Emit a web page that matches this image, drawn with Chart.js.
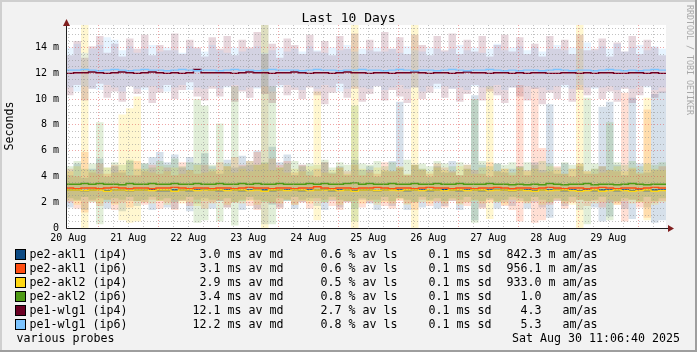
<!DOCTYPE html>
<html>
<head>
<meta charset="utf-8">
<title>Last 10 Days</title>
<script src="https://cdn.jsdelivr.net/npm/chart.js"></script>
<style>
    html, body { margin: 0; padding: 0; background: #f2f2f2; }
    canvas { display: block; }
</style>
</head>
<body>
<canvas id="chart" width="697" height="352"></canvas>
<script>
// x is hours since the graph start (20 Aug 11:06:40), every value covers one 3 h step
const stepHours = 3
const spanHours = 240
const firstNoon = 0.889 // 20 Aug 12:00
const dayLabels = ["20 Aug", "21 Aug", "22 Aug", "23 Aug", "24 Aug", "25 Aug", "26 Aug", "27 Aug", "28 Aug", "29 Aug"]
const yTickLabels = ["0", "2 m", "4 m", "6 m", "8 m", "10 m", "12 m", "14 m"]
const yMax = 15.75

const hostNames = ["pe2-akl1 (ip4)", "pe2-akl1 (ip6)", "pe2-akl2 (ip4)", "pe2-akl2 (ip6)", "pe1-wlg1 (ip4)", "pe1-wlg1 (ip6)"]
const avgMedian = [3.0, 3.1, 2.9, 3.4, 12.1, 12.2]
const avgLoss = [0.6, 0.6, 0.5, 0.8, 2.7, 0.8]
const avgSd = [0.1, 0.1, 0.1, 0.1, 0.1, 0.1]
const amAs = [842.3, 956.1, 933.0, 1.0, 4.3, 5.3]
const amAsPrefix = ["m", "m", "m", " ", " ", " "]

// medians (ms)
const akl1v4Med = [2.95,2.95,2.9,2.95,3.0,2.9,2.95,2.95,2.9,2.95, 2.95,3.0,2.9,2.9,2.95,2.95,2.9,2.95,3.0,2.95, 2.9,2.95,2.95,2.9,2.95,3.0,2.95,2.9,2.95,2.95, 2.95,2.9,2.95,2.95,3.0,2.9,2.95,2.95,2.9,2.95, 2.95,2.9,2.95,3.0,2.95,2.9,2.95,2.95,2.9,2.95, 3.0,2.95,2.9,2.95,2.95,2.9,2.95,3.0,2.95,2.9, 2.95,2.95,2.9,2.95,2.95,3.0,2.9,2.95,2.9,2.95, 2.9,2.95,2.95,2.9,2.95,2.9,2.95,2.9,2.95,2.95]
const akl1v6Med = [3.1,3.05,3.1,3.1,3.05,3.1,3.15,3.1,3.05,3.1, 3.1,3.05,3.1,3.1,3.15,3.1,3.05,3.1,3.1,3.05, 3.1,3.1,3.05,3.1,3.15,3.1,3.1,3.05,3.1,3.1, 3.05,3.1,3.1,3.2,3.1,3.05,3.1,3.1,3.05,3.1, 3.1,3.15,3.1,3.05,3.1,3.1,3.05,3.1,3.15,3.1, 3.1,3.05,3.1,3.1,3.05,3.1,3.1,3.15,3.1,3.05, 3.1,3.1,3.05,3.1,3.15,3.1,3.05,3.1,3.1,3.05, 3.1,3.15,3.1,3.05,3.1,3.1,3.05,3.1,3.15,3.1]
const akl2v4Med = [2.95,2.95,2.9,2.95,2.95,2.85,2.95,2.95,2.9,2.95, 2.95,2.9,2.95,2.95,2.85,2.95,2.95,2.9,2.95,2.95, 2.95,2.9,2.95,2.95,2.9,2.95,2.85,2.95,2.95,2.9, 2.95,2.95,2.9,2.95,2.95,2.95,2.9,2.95,2.85,2.95, 2.95,2.9,2.95,2.95,2.9,2.95,2.95,2.9,2.95,2.95, 2.9,2.95,2.95,2.9,2.95,2.95,2.9,2.95,2.95,2.9, 2.95,2.9,2.85,2.95,2.9,2.95,2.95,2.9,2.85,2.9, 2.95,2.85,2.9,2.95,2.9,2.85,2.9,2.95,2.85,2.9]
const akl2v6Med = [3.4,3.4,3.45,3.4,3.45,3.4,3.4,3.35,3.45,3.4, 3.4,3.45,3.4,3.4,3.45,3.4,3.4,3.45,3.4,3.4, 3.45,3.4,3.4,3.45,3.4,3.45,3.4,3.4,3.45,3.4, 3.4,3.4,3.45,3.4,3.45,3.4,3.4,3.45,3.5,3.4, 3.45,3.4,3.4,3.45,3.4,3.4,3.45,3.4,3.4,3.45, 3.4,3.4,3.45,3.4,3.4,3.4,3.45,3.4,3.4,3.35, 3.4,3.35,3.4,3.35,3.45,3.4,3.35,3.4,3.4,3.45, 3.35,3.4,3.4,3.35,3.4,3.45,3.4,3.35,3.4,3.4]
const wlg1v4Med = [12.0,12.05,12.05,12.1,12.05,12.0,12.05,12.1,12.05,12.0, 12.05,12.1,12.05,12.0,12.05,12.0,12.05,12.3,12.05,12.05, 12.05,12.05,12.0,12.05,12.1,12.05,12.05,12.0,12.05,12.05, 12.1,12.05,12.0,12.05,12.05,12.0,12.05,12.1,12.05,12.05, 12.0,12.05,12.05,12.0,12.05,12.05,12.1,12.05,12.0,12.05, 12.05,12.0,12.05,12.1,12.05,12.05,12.0,12.05,12.05,12.0, 12.05,12.0,12.05,12.05,12.0,12.0,12.05,12.05,12.0,12.05, 12.0,12.05,12.05,12.0,12.0,12.05,12.05,12.0,12.05,12.0]
const wlg1v6Med = [12.25,12.25,12.3,12.25,12.2,12.25,12.3,12.25,12.2,12.25, 12.3,12.25,12.25,12.2,12.25,12.3,12.25,12.2,12.25,12.25, 12.2,12.25,12.3,12.25,12.25,12.2,12.25,12.3,12.25,12.25, 12.25,12.2,12.25,12.3,12.25,12.25,12.2,12.25,12.25,12.3, 12.25,12.25,12.2,12.25,12.3,12.25,12.2,12.25,12.25,12.2, 12.25,12.3,12.25,12.2,12.25,12.25,12.3,12.25,12.2,12.25, 12.2,12.25,12.25,12.2,12.25,12.3,12.25,12.2,12.25,12.25, 12.2,12.25,12.3,12.25,12.2,12.25,12.2,12.25,12.3,12.25]

// smoke: lowest and highest ping per step (ms)
const akl1v4Min = [1.6,2.2,1.4,2.0,2.3,1.5,1.9,1.3,2.1,1.7, 2.0,1.4,2.2,1.6,1.5,2.1,1.3,1.9,2.3,1.5, 2.1,1.6,2.0,1.4,2.2,1.5,0.3,1.8,1.6,2.1, 1.5,2.0,2.3,1.7,1.4,2.1,1.6,2.0,1.5,2.2, 1.9,1.4,2.1,1.7,2.3,1.4,2.0,1.6,2.2,1.5, 1.7,2.1,1.4,2.0,0.6,1.6,2.2,1.5,2.0,1.7, 2.1,1.5,2.0,1.6,0.8,2.1,1.7,2.0,1.4,2.1, 1.6,0.5,0.9,2.0,1.5,0.7,2.1,1.6,0.4,0.6]
const akl1v4Max = [4.1,5.0,3.9,4.6,5.4,4.0,4.8,4.3,5.2,4.1, 5.0,5.5,5.9,5.1,5.7,4.7,5.5,5.0,5.8,4.8, 4.2,5.3,4.7,5.6,4.9,6.0,15.8,6.3,5.1,5.7, 4.1,4.9,4.4,4.0,5.1,4.3,4.8,4.1,5.3,4.5, 4.8,4.0,4.4,5.2,9.8,4.1,4.9,4.6,4.0,4.8, 4.3,5.2,4.1,4.6,10.3,4.9,4.0,5.0,4.3,4.6, 4.8,4.1,5.1,4.5,9.6,4.2,5.0,4.0,4.8,4.2, 4.6,9.4,9.8,4.9,4.1,10.1,5.0,4.3,10.4,10.6]
const akl1v6Min = [2.0,1.5,1.2,2.1,1.7,2.2,1.4,2.0,1.6,2.1, 1.8,2.2,1.5,2.0,1.4,2.1,1.7,2.2,1.5,2.0, 2.1,1.6,2.0,2.2,1.7,1.4,2.1,1.9,1.5,2.2, 1.8,2.0,1.5,2.1,2.2,1.7,1.4,2.0,2.1,1.6, 2.0,2.2,1.7,1.5,2.1,1.9,1.4,2.2,1.7,2.0, 1.6,2.1,1.9,1.7,2.2,1.5,2.0,2.1,1.7,1.4, 0.5,2.0,0.4,0.6,1.8,2.1,1.5,2.0,2.2,1.7, 2.1,1.6,2.0,1.8,0.5,2.2,1.6,0.8,2.0,2.1]
const akl1v6Max = [4.6,4.0,5.9,4.3,5.0,4.2,4.9,4.5,4.1,5.2, 4.4,4.9,4.2,4.7,4.1,5.1,4.5,4.2,4.9,4.4, 5.1,4.8,5.5,4.9,5.2,5.9,5.0,5.4,4.9,5.2, 4.3,4.9,4.1,4.6,5.1,4.2,4.7,4.4,4.9,4.1, 4.5,4.2,5.1,4.4,4.7,4.1,4.9,4.5,4.2,5.0, 4.7,4.4,4.1,4.9,4.5,4.2,5.1,4.4,4.6,4.1, 11.1,4.5,10.9,6.2,4.4,4.8,4.2,4.6,5.0,4.4, 4.2,4.8,4.5,4.4,10.5,4.6,4.2,9.2,4.5,4.8]
const akl2v4Min = [2.1,1.8,0.0,2.0,1.9,2.2,1.8,0.6,0.4,0.5, 2.0,1.9,2.1,1.8,2.2,1.9,2.0,1.7,2.1,1.9, 2.2,1.8,2.0,1.9,2.1,1.8,0.0,2.0,1.9,2.2, 1.8,2.1,1.9,0.6,2.0,2.2,1.8,2.1,0.0,1.9, 2.1,1.8,2.0,1.9,2.2,1.8,0.0,2.0,1.9,2.1, 1.9,2.2,1.8,2.0,2.1,1.9,0.7,2.0,1.8,2.2, 2.0,1.9,2.1,1.8,2.0,2.2,1.9,1.8,0.0,2.1, 1.9,2.0,2.2,1.8,2.1,1.9,2.0,0.6,1.8,2.0]
const akl2v4Max = [4.4,4.8,16,4.5,4.2,4.7,4.3,8.8,9.3,10.2, 4.6,4.3,4.8,4.4,4.7,4.2,4.5,4.9,4.3,4.6, 4.5,4.8,4.3,4.6,4.4,4.9,16,4.5,4.7,4.3, 4.6,4.4,4.8,10.6,4.3,4.5,4.7,4.2,16,4.6, 4.3,4.7,4.5,4.4,4.8,4.2,16,4.6,4.4,4.7, 4.5,4.3,4.8,4.6,4.2,4.7,11.0,4.4,4.6,4.3, 4.7,4.4,4.6,4.3,4.8,4.5,4.2,4.6,16,4.4, 4.6,4.3,4.5,4.8,4.4,4.7,4.3,10.1,4.6,4.5]
const akl2v6Min = [2.3,2.1,2.4,2.2,0.3,2.0,2.3,2.2,2.4,2.1, 2.2,2.4,2.1,2.3,2.0,2.2,2.4,0.4,0.6,2.2, 0.5,2.3,0.2,2.1,2.4,2.2,2.0,0.3,2.3,2.1, 2.4,2.2,2.1,2.3,2.0,2.4,2.2,2.1,0.5,2.3, 2.2,2.0,2.4,2.1,2.3,2.2,2.0,2.4,2.1,2.3, 2.1,2.3,2.2,2.4,0.4,2.1,2.3,2.0,2.2,2.4, 2.3,2.1,2.4,2.2,2.0,2.3,2.1,2.4,2.2,0.3, 2.2,2.4,0.6,2.1,2.3,2.2,2.0,2.4,2.1,2.3]
const akl2v6Max = [4.8,5.2,4.6,5.0,8.2,4.7,5.1,4.9,5.3,4.6, 5.0,4.7,5.2,4.9,5.4,4.8,5.1,10.0,9.5,4.9, 8.1,5.0,11.0,4.8,5.2,4.9,5.1,11.0,4.7,5.0, 5.2,4.8,5.0,4.9,5.3,4.7,5.1,4.9,9.5,5.0, 4.9,5.2,4.8,5.1,4.7,5.3,4.9,5.0,4.8,5.2, 5.0,4.8,5.1,4.9,10.0,5.2,4.8,5.0,4.9,5.1, 4.8,5.1,4.9,5.2,5.0,4.7,5.1,4.9,5.0,10.1, 5.0,4.8,8.2,5.1,4.9,5.2,4.8,5.0,4.9,5.1]
const wlg1v4Min = [10.3,11.1,9.9,10.8,11.2,10.1,10.6,9.8,11.0,10.4, 10.9,9.7,10.5,11.1,10.0,10.7,11.3,10.2,9.9,10.8, 10.2,11.0,9.8,10.6,10.1,10.9,10.4,9.7,11.1,10.3, 10.7,10.0,10.9,10.3,9.6,10.5,11.2,10.1,10.8,9.8, 10.4,11.0,9.9,10.7,10.2,9.7,10.9,10.0,10.5,11.2, 10.1,10.8,9.8,10.4,11.1,9.9,10.6,10.3,9.7,10.9, 10.2,9.9,10.8,9.6,10.5,10.0,11.1,9.8,10.7,10.3, 10.9,10.0,10.6,9.8,10.8,9.7,10.3,11.0,10.1,10.5]
const wlg1v4Max = [13.4,14.5,13.2,14.1,14.9,13.6,14.3,13.3,14.7,13.9, 15.0,13.4,14.2,13.8,15.1,13.5,14.6,14.0,13.3,14.8, 13.9,14.9,13.4,14.6,14.0,15.2,13.5,14.3,13.2,14.7, 14.2,13.5,15.0,13.7,14.5,13.4,14.9,13.9,15.1,13.5, 14.6,13.7,15.2,13.9,14.8,13.5,15.0,14.2,13.4,14.9, 13.8,15.1,13.5,14.6,13.7,14.9,13.3,14.2,15.0,13.7, 14.8,13.5,14.3,13.3,14.9,13.9,14.6,13.5,15.0,13.8, 13.9,14.7,13.3,14.4,13.7,14.9,13.5,14.6,14.0,13.4]
const wlg1v6Min = [10.9,10.6,11.0,10.8,10.7,11.1,10.9,10.6,11.0,10.8, 10.7,11.0,10.8,10.6,10.9,11.1,10.7,10.9,10.8,11.0, 10.8,10.9,11.1,10.7,10.9,10.8,11.0,10.6,10.9,11.1, 10.9,10.7,11.0,10.8,11.1,10.9,10.6,10.8,11.0,10.9, 10.8,11.0,10.7,10.9,11.1,10.8,10.9,10.6,11.0,10.8, 11.0,10.8,10.9,10.7,11.0,10.9,10.8,11.1,10.7,10.9, 10.9,11.0,10.8,10.9,10.7,11.0,10.9,10.8,11.1,10.9, 10.8,10.9,11.0,10.7,10.9,10.8,11.0,10.9,10.7,10.9]
const wlg1v6Max = [14.0,14.3,13.6,13.9,14.2,14.8,14.6,13.8,14.1,13.6, 13.9,14.2,13.7,14.0,13.8,13.6,14.1,13.9,13.7,14.2, 13.8,13.6,14.0,13.7,13.9,14.1,13.6,13.8,14.0,13.7, 13.9,13.7,14.1,13.8,13.6,14.0,13.8,14.2,13.7,13.9, 13.8,14.0,13.7,13.9,13.6,14.1,13.8,13.7,14.0,13.9, 13.7,13.9,14.2,13.8,14.0,13.6,13.9,14.3,13.8,14.0, 14.1,13.8,14.0,13.7,13.9,14.2,13.8,14.0,13.9,14.4, 13.8,14.1,13.9,14.3,13.7,14.0,14.2,13.8,14.1,13.9]

const series = [
    { name: hostNames[0], med: akl1v4Med, lo: akl1v4Min, hi: akl1v4Max, color: "#0c4a84", smoke: "rgba(12,74,132,0.17)" },
    { name: hostNames[1], med: akl1v6Med, lo: akl1v6Min, hi: akl1v6Max, color: "#ff4d12", smoke: "rgba(255,77,18,0.18)" },
    { name: hostNames[2], med: akl2v4Med, lo: akl2v4Min, hi: akl2v4Max, color: "#ffd814", smoke: "rgba(255,216,20,0.2)" },
    { name: hostNames[3], med: akl2v6Med, lo: akl2v6Min, hi: akl2v6Max, color: "#4e9a15", smoke: "rgba(78,154,21,0.17)" },
    { name: hostNames[4], med: wlg1v4Med, lo: wlg1v4Min, hi: wlg1v4Max, color: "#6b0023", smoke: "rgba(107,0,35,0.16)" },
    { name: hostNames[5], med: wlg1v6Med, lo: wlg1v6Min, hi: wlg1v6Max, color: "#7cc4ff", smoke: "rgba(124,196,255,0.18)" }
]

const gridColor = "rgba(143,143,143,0.55)"
const mgridColor = "rgba(222,79,79,0.5)"
const mono = "\"DejaVu Sans Mono\""

// each value holds for its whole step
const stepPoints = vals => vals.flatMap((v, i) => [{ x: i * stepHours, y: v }, { x: (i + 1) * stepHours, y: v }])

const datasets = []
series.forEach((s, i) => {
    datasets.push({ data: stepPoints(s.med), borderColor: s.color, borderWidth: 1.4, fill: false, order: 10 - i })
})
series.forEach((s, i) => {
    datasets.push({ data: stepPoints(s.hi), borderWidth: 0, backgroundColor: s.smoke, fill: "+1", order: 30 - i })
    datasets.push({ data: stepPoints(s.lo), borderWidth: 0, fill: false, order: 30 - i })
})

const xTicks = []
for (let t = firstNoon; t < spanHours; t += 6) xTicks.push(t)
const yTicks = []
for (let v = 0; v < yMax; v += 0.5) yTicks.push(v)

const fmt = v => v.toFixed(1).padStart(5)

const rrdDecor = {
    id: "rrdDecor",
    beforeDraw(chart) {
        const { ctx, chartArea: a } = chart
        ctx.save()
        ctx.fillStyle = "#f2f2f2"
        ctx.fillRect(0, 0, chart.width, chart.height)
        ctx.fillStyle = "#ffffff"
        ctx.fillRect(a.left, a.top, a.right - a.left, a.bottom - a.top)
        ctx.restore()
    },
    afterDraw(chart) {
        const { ctx, chartArea: a } = chart
        const W = chart.width, H = chart.height
        ctx.save()

        // frame shading
        ctx.fillStyle = "#cfcfcf"
        ctx.fillRect(0, 0, W, 2)
        ctx.fillRect(0, 0, 2, H)
        ctx.fillStyle = "#9e9e9e"
        ctx.fillRect(0, H - 2, W, 2)
        ctx.fillRect(W - 2, 0, 2, H)

        // axes
        ctx.strokeStyle = "#1f1f1f"
        ctx.lineWidth = 1
        ctx.beginPath()
        ctx.moveTo(a.left + 0.5, 22)
        ctx.lineTo(a.left + 0.5, a.bottom + 0.5)
        ctx.lineTo(a.right + 4, a.bottom + 0.5)
        ctx.stroke()
        ctx.fillStyle = "#801f1f"
        ctx.beginPath()
        ctx.moveTo(a.left + 0.5, 19)
        ctx.lineTo(a.left - 3, 26)
        ctx.lineTo(a.left + 4, 26)
        ctx.fill()
        ctx.beginPath()
        ctx.moveTo(a.right + 8, a.bottom + 0.5)
        ctx.lineTo(a.right + 2, a.bottom - 3)
        ctx.lineTo(a.right + 2, a.bottom + 4)
        ctx.fill()

        // title
        ctx.fillStyle = "#000"
        ctx.textBaseline = "middle"
        ctx.textAlign = "center"
        ctx.font = "13px " + mono
        ctx.fillText("Last 10 Days", 348.5, 19)

        // vertical label
        ctx.font = "11.63px " + mono
        ctx.save()
        ctx.translate(10, 126)
        ctx.rotate(-Math.PI / 2)
        ctx.fillText("Seconds", 0, 0)
        ctx.restore()

        // credit
        ctx.save()
        ctx.translate(689, 5)
        ctx.rotate(Math.PI / 2)
        ctx.textAlign = "left"
        ctx.fillStyle = "#a8a8a8"
        ctx.font = "8.3px " + mono
        ctx.fillText("RRDTOOL / TOBI OETIKER", 0, 0)
        ctx.restore()

        // legend
        ctx.textAlign = "left"
        ctx.font = "11.63px " + mono
        series.forEach((s, i) => {
            const y = 254.5 + 14 * i
            ctx.fillStyle = s.color
            ctx.fillRect(16, y - 4.5, 9, 9)
            ctx.strokeStyle = "#000"
            ctx.strokeRect(15.5, y - 5, 10, 10)
            ctx.fillStyle = "#000"
            ctx.fillText(s.name, 29.5, y)
            ctx.fillText(fmt(avgMedian[i]) + " ms av md", 185.5, y)
            ctx.fillText(fmt(avgLoss[i]) + " % av ls", 306.5, y)
            ctx.fillText(fmt(avgSd[i]) + " ms sd", 414.5, y)
            ctx.fillText(fmt(amAs[i]) + " " + amAsPrefix[i] + " am/as", 506.5, y)
        })
        ctx.fillText("various probes", 16.5, 338.5)
        ctx.fillText("Sat Aug 30 11:06:40 2025", 512, 338.5)
        ctx.restore()
    }
}

Chart.defaults.font.family = "DejaVu Sans Mono"

new Chart("chart", {
    type: "line",
    data: { datasets },
    options: {
        responsive: false,
        animation: false,
        events: [],
        layout: { padding: { left: 0, right: 31, top: 25, bottom: 104 } },
        elements: { point: { radius: 0 }, line: { tension: 0 } },
        plugins: { legend: { display: false }, tooltip: { enabled: false } },
        scales: {
            x: {
                type: "linear",
                min: 0,
                max: spanHours,
                afterBuildTicks: s => { s.ticks = xTicks.map(v => ({ value: v })) },
                afterFit: s => { s.height = 20 },
                ticks: {
                    autoSkip: false,
                    maxRotation: 0,
                    padding: 4,
                    color: "#000",
                    font: { size: 10 },
                    callback: (v, i) => i % 4 === 0 ? dayLabels[i / 4] : ""
                },
                grid: {
                    color: c => c.index % 4 === 2 ? mgridColor : gridColor,
                    drawTicks: false,
                    z: 1
                },
                border: { display: false, dash: [1, 2] }
            },
            y: {
                min: 0,
                max: yMax,
                afterBuildTicks: s => { s.ticks = yTicks.map(v => ({ value: v })) },
                afterFit: s => { s.width = 66 },
                ticks: {
                    autoSkip: false,
                    padding: 7,
                    color: "#000",
                    font: { size: 10 },
                    callback: v => v % 2 === 0 ? yTickLabels[v / 2] : ""
                },
                grid: {
                    color: c => c.tick.value % 2 === 0 ? mgridColor : gridColor,
                    drawTicks: false,
                    z: 1
                },
                border: { display: false, dash: [1, 2] }
            }
        }
    },
    plugins: [rrdDecor]
})
</script>
</body>
</html>
